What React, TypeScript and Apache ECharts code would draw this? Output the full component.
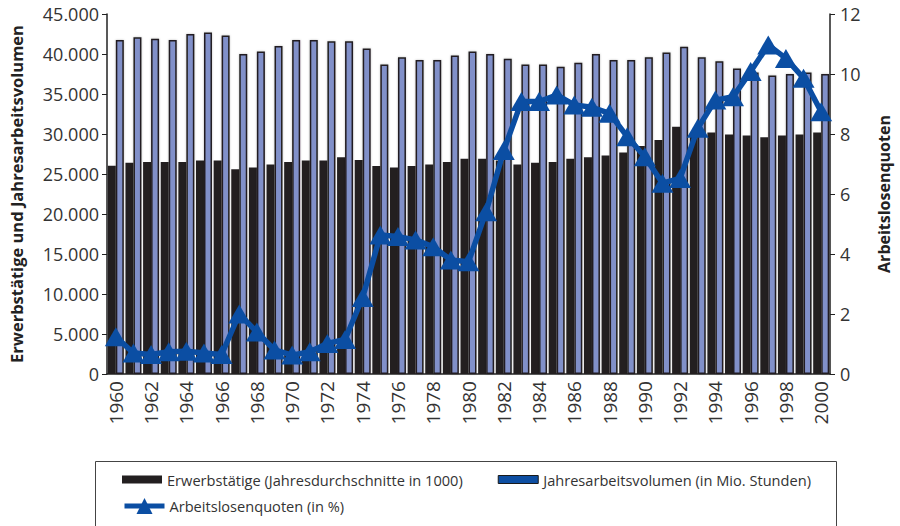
import React, { useEffect, useRef } from "react";
import * as echarts from "echarts";

const years: string[] = [];
for (let y = 1960; y <= 2000; y++) years.push(String(y));

const erwerbstaetige = [
  26040, 26400, 26500, 26500, 26500, 26700, 26700, 25600, 25800, 26200,
  26500, 26700, 26700, 27100, 26750, 26000, 25800, 26000, 26200, 26500,
  26900, 26900, 26700, 26200, 26400, 26500, 26900, 27100, 27300, 27700,
  28500, 29250, 30900, 30100, 30200, 29950, 29800, 29600, 29800, 29950,
  30200,
];

const arbeitsvolumen = [
  41750, 42100, 41900, 41750, 42500, 42700, 42300, 40000, 40300, 41000,
  41750, 41750, 41600, 41600, 40700, 38700, 39600, 39250, 39250, 39800,
  40300, 40000, 39400, 38700, 38700, 38400, 38900, 40000, 39250, 39250,
  39600, 40200, 40900, 39600, 39100, 38200, 37700, 37300, 37500, 37700,
  37500,
];

const quoten = [
  1.24, 0.7, 0.65, 0.74, 0.76, 0.7, 0.65, 2.0, 1.4, 0.8,
  0.63, 0.74, 1.02, 1.15, 2.55, 4.63, 4.58, 4.47, 4.24, 3.8,
  3.74, 5.41, 7.45, 9.08, 9.08, 9.3, 8.97, 8.89, 8.69, 7.91,
  7.24, 6.36, 6.52, 8.19, 9.13, 9.24, 10.08, 10.97, 10.52, 9.86,
  8.74,
];

const S1 = "Erwerbstätige (Jahresdurchschnitte in 1000)";
const S2 = "Jahresarbeitsvolumen (in Mio. Stunden)";
const S3 = "Arbeitslosenquoten (in %)";

const FONT = "'Open Sans', 'Noto Sans', sans-serif";
const LINE_BLUE = "#0b4ea3";

export default function App() {
  const ref = useRef<HTMLDivElement>(null);
  useEffect(() => {
    if (!ref.current) return;
    const chart = echarts.init(ref.current, null, { renderer: "svg" });
    const fmt = (v: number) =>
      String(v).replace(/\B(?=(\d{3})+(?!\d))/g, ".");
    chart.setOption({
      animation: false,
      backgroundColor: "#ffffff",
      textStyle: { fontFamily: FONT },
      grid: { left: 96, right: 64, top: 14, bottom: 152, containLabel: false },
      legend: [
        {
          left: 117,
          top: 467,
          itemWidth: 40,
          itemHeight: 8,
          itemGap: 35,
          textStyle: { fontFamily: FONT, fontSize: 14.6, color: "#333" },
          data: [
            { name: S1, icon: "rect", itemStyle: { color: "#231f20" } },
            {
              name: S2,
              icon: "rect",
              itemStyle: { color: "#0d4ea2", borderColor: "#1a1a1a", borderWidth: 1 },
            },
          ],
        },
        {
          left: 117,
          top: 493,
          itemWidth: 40,
          itemHeight: 20,
          textStyle: { fontFamily: FONT, fontSize: 14.6, color: "#333" },
          data: [
            {
              name: S3,
              itemStyle: { color: LINE_BLUE, borderWidth: 0 },
              lineStyle: { color: LINE_BLUE, width: 5 },
            },
          ],
        },
      ],
      graphic: [
        {
          type: "rect",
          shape: { x: 95.5, y: 461.5, width: 741, height: 80 },
          style: { fill: "none", stroke: "#444", lineWidth: 1 },
          silent: true,
        },
      ],
      xAxis: {
        type: "category",
        data: years,
        boundaryGap: true,
        axisLine: { lineStyle: { color: "#222", width: 1.5 } },
        axisTick: { interval: 0, length: 5, lineStyle: { color: "#222" } },
        axisLabel: {
          interval: 1,
          rotate: 90,
          margin: 7,
          fontSize: 19,
          color: "#333",
          fontFamily: FONT,
        },
      },
      yAxis: [
        {
          type: "value",
          min: 0,
          max: 45000,
          interval: 5000,
          name: "Erwerbstätige und Jahresarbeitsvolumen",
          nameLocation: "middle",
          nameRotate: 90,
          nameGap: 82,
          nameTextStyle: { fontSize: 16.5, fontWeight: "bold", color: "#222", fontFamily: FONT },
          splitLine: { show: false },
          axisLine: { show: true, lineStyle: { color: "#222", width: 1.5 } },
          axisTick: { show: true, length: 5, lineStyle: { color: "#222" } },
          axisLabel: { fontSize: 18, color: "#333", margin: 8, formatter: fmt, fontFamily: FONT },
        },
        {
          type: "value",
          min: 0,
          max: 12,
          interval: 2,
          position: "right",
          name: "Arbeitslosenquoten",
          nameLocation: "middle",
          nameRotate: 90,
          nameGap: 46,
          nameTextStyle: { fontSize: 16, fontWeight: "bold", color: "#222", fontFamily: FONT },
          splitLine: { show: false },
          axisLine: { show: true, lineStyle: { color: "#222", width: 1.5 } },
          axisTick: { show: true, length: 5, lineStyle: { color: "#222" } },
          axisLabel: { fontSize: 18, color: "#333", margin: 10, fontFamily: FONT },
        },
      ],
      series: [
        {
          name: S1,
          type: "bar",
          data: erwerbstaetige,
          barWidth: 8,
          barGap: "0%",
          itemStyle: { color: "#231f20" },
          z: 2,
        },
        {
          name: S2,
          type: "bar",
          data: arbeitsvolumen,
          barWidth: 8,
          barGap: "0%",
          itemStyle: {
            color: "#8190c9",
            borderColor: "#231f20",
            borderWidth: 1.5,
            shadowColor: "rgba(0,0,0,0.25)",
            shadowBlur: 2,
          },
          z: 2,
        },
        {
          name: S3,
          type: "line",
          yAxisIndex: 1,
          data: quoten,
          symbol: "triangle",
          symbolSize: [22, 19],
          showAllSymbol: true,
          lineStyle: { color: LINE_BLUE, width: 5.5 },
          itemStyle: { color: LINE_BLUE, borderColor: LINE_BLUE, borderWidth: 0, opacity: 1 },
          z: 5,
        },
      ],
    });
    return () => chart.dispose();
  }, []);
  return (
    <div
      ref={ref}
      style={{ position: "fixed", left: 0, top: 0, width: 900, height: 526 }}
    />
  );
}
